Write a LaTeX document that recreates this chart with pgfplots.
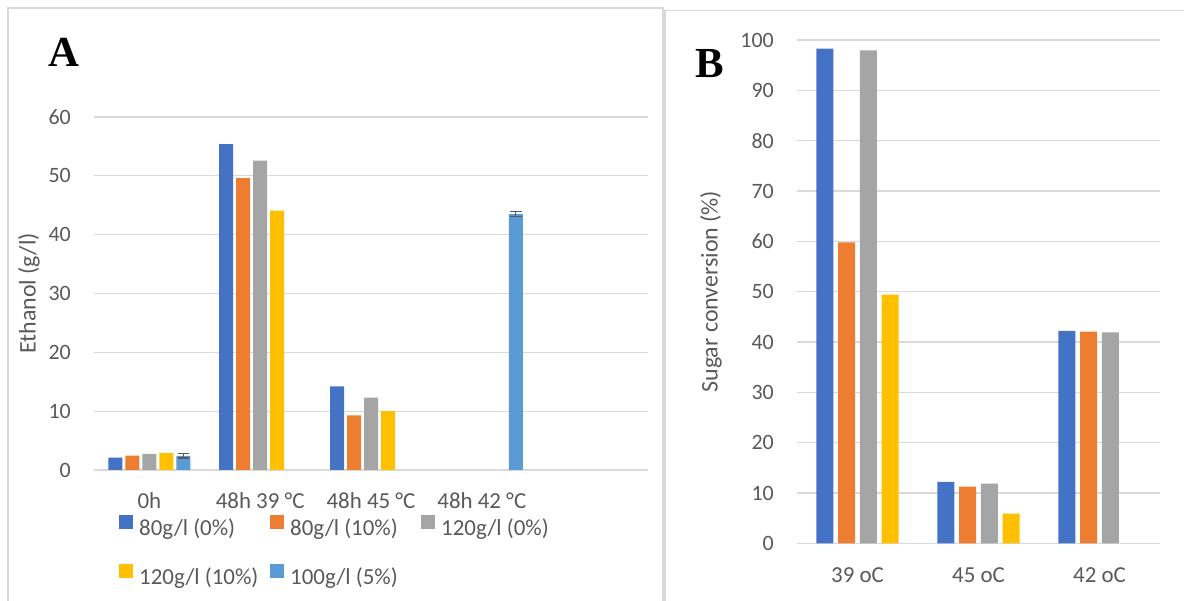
\documentclass[border=0pt]{standalone}
\usepackage{fontspec}
\setmainfont{Carlito}
\newfontfamily\tnr{Liberation Serif}
\usepackage{pgfplots}
\pgfplotsset{compat=1.18}
\definecolor{cBlue}{HTML}{4472C4}
\definecolor{cOrange}{HTML}{ED7D31}
\definecolor{cGray}{HTML}{A5A5A5}
\definecolor{cYellow}{HTML}{FFC000}
\definecolor{cLBlue}{HTML}{5B9BD5}
\definecolor{cGrid}{HTML}{D9D9D9}
\definecolor{cText}{HTML}{595959}
\definecolor{cErr}{HTML}{595959}
\pgfplotsset{
  exstyle/.style={
    scale only axis, anchor=south west, enlargelimits=false, clip=false,
    ymajorgrids, grid style={draw=cGrid, line width=1.3bp},
    axis line style={draw=none}, major tick length=0pt, tick style={draw=none},
    /pgf/number format/assume math mode=true,
    ticklabel style={font=\fontsize{22}{26}\selectfont, text=cText},
    yticklabel style={inner sep=0pt, anchor=east, xshift=-23bp},
    xticklabel style={font=\fontsize{23}{27}\selectfont},
    ylabel style={font=\fontsize{24}{28}\selectfont, text=cText, anchor=center},
  }
}
\begin{document}
\begin{tikzpicture}
\useasboundingbox (0,0) rectangle (1184bp,601bp);
% panel frames
\draw[cGrid, line width=1.3bp] (8bp,-5bp) -- (8bp,593bp) -- (663bp,593bp) -- (663bp,-5bp);
\draw[cGrid, line width=1.3bp] (665bp,-5bp) -- (665bp,590.5bp) -- (1190bp,590.5bp);

% ---------------- Panel A ----------------
\begin{axis}[exstyle,
  at={(94bp,131bp)}, width=554bp, height=353bp,
  xmin=-0.5, xmax=4.5, ymin=0, ymax=60,
  ytick={0,10,...,60},
  xtick={0,1,2,3,4},
  xticklabels={0h,48h 39 °C,48h 45 °C,48h 42 °C,{}},
  xticklabel style={anchor=base, inner sep=0pt, yshift=-38.3bp},
  ybar=3bp, bar width=14bp,
  ylabel={Ethanol (g/l)},
  ylabel style={at={(axis description cs:-0.1173,0.5)}},
  legend columns=3,
  legend image code/.code={\draw[#1,draw=none] (0bp,1bp) rectangle (14bp,15bp);},
  legend style={at={(axis description cs:0.0451,-0.128)}, anchor=north west,
    draw=none, fill=none, inner sep=0pt, row sep=23bp,
    font=\fontsize{23}{27}\selectfont, text=cText,
    nodes={inner xsep=6bp, inner ysep=0pt, text height=16bp, text depth=6bp},
    /tikz/every even column/.append style={column sep=6bp}},
]
\addplot[fill=cBlue, draw=none] coordinates {(0,2.1) (1,55.4) (2,14.2)};
\addlegendentry{\makebox[119bp][l]{80g/l (0\%)}}
\addplot[fill=cOrange, draw=none] coordinates {(0,2.45) (1,49.6) (2,9.3)};
\addlegendentry{\makebox[119bp][l]{80g/l (10\%)}}
\addplot[fill=cGray, draw=none] coordinates {(0,2.75) (1,52.6) (2,12.3)};
\addlegendentry{\makebox[119bp][l]{120g/l (0\%)}}
\addplot[fill=cYellow, draw=none] coordinates {(0,2.9) (1,44.1) (2,10.0)};
\addlegendentry{\makebox[119bp][l]{120g/l (10\%)}}
\addplot[fill=cLBlue, draw=none,
  error bars/.cd, y dir=both, y explicit, error mark=|,
  error bar style={draw=cErr, line width=1.2bp},
  error mark options={draw=cErr, line width=1.2bp, mark size=5.8bp}]
  coordinates {(0,2.4) +- (0,0.35) (3,43.5) +- (0,0.4)};
\addlegendentry{\makebox[119bp][l]{100g/l (5\%)}}
\end{axis}

% ---------------- Panel B ----------------
\begin{axis}[exstyle,
  at={(797bp,57.7bp)}, width=363bp, height=503.3bp,
  xmin=-0.5, xmax=2.5, ymin=0, ymax=100,
  ytick={0,10,...,100},
  xtick={0,1,2},
  xticklabels={39 oC,45 oC,42 oC},
  xticklabel style={anchor=base, inner sep=0pt, yshift=-39.4bp},
  ybar=4.8bp, bar width=17bp,
  ylabel={Sugar conversion (\%)},
  ylabel style={at={(axis description cs:-0.2369,0.5)}},
]
\addplot[fill=cBlue, draw=none] coordinates {(0,98.3) (1,12.2) (2,42.2)};
\addplot[fill=cOrange, draw=none] coordinates {(0,59.8) (1,11.25) (2,42.05)};
\addplot[fill=cGray, draw=none] coordinates {(0,97.95) (1,11.85) (2,41.9)};
\addplot[fill=cYellow, draw=none] coordinates {(0,49.4) (1,5.9)};
\end{axis}

% panel letters
\node[anchor=base west, inner sep=0pt, font=\tnr\bfseries\fontsize{43}{43}\selectfont] at (48bp,534bp) {A};
\node[anchor=base west, inner sep=0pt, font=\tnr\bfseries\fontsize{43}{43}\selectfont] at (695bp,523bp) {B};
\end{tikzpicture}
\end{document}
